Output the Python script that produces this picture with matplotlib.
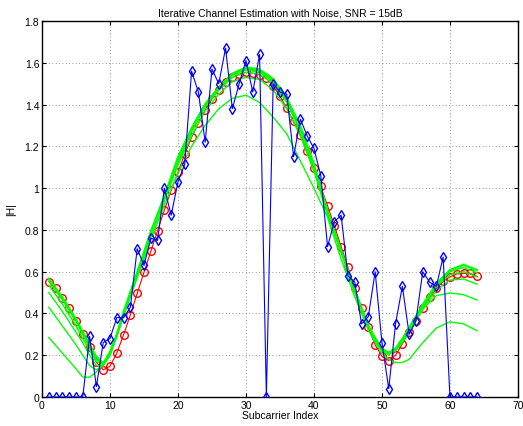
import matplotlib
matplotlib.use("Agg")
import matplotlib.pyplot as plt
import numpy as np

plt.rcParams['font.family'] = ['Liberation Sans', 'DejaVu Sans']

subcarriers = list(range(1, 65))

# raw LS estimate with noise (blue diamonds)
noisy = [0, 0, 0, 0, 0, 0, 0.29, 0.05, 0.26, 0.28,
         0.38, 0.38, 0.43, 0.71, 0.63, 0.76, 0.75, 1.00, 0.87, 1.03,
         1.115, 1.56, 1.46, 1.22, 1.57, 1.50, 1.67, 1.38, 1.50, 1.61,
         1.46, 1.64, 0, 1.50, 1.46, 1.45, 1.15, 1.33, 1.25, 1.19,
         1.06, 0.72, 0.84, 0.87, 0.58, 0.55, 0.35, 0.385, 0.60, 0.26,
         0.04, 0.35, 0.53, 0.30, 0.365, 0.60, 0.55, 0.53, 0.67, 0,
         0, 0, 0, 0]

# true channel (red circles)
true_h = [0.552, 0.52, 0.474, 0.426, 0.365, 0.30, 0.238, 0.166, 0.13, 0.147,
          0.21, 0.298, 0.394, 0.496, 0.597, 0.697, 0.796, 0.895, 0.99, 1.076,
          1.163, 1.243, 1.31, 1.374, 1.427, 1.471, 1.506, 1.53, 1.545, 1.554,
          1.55, 1.541, 1.526, 1.49, 1.44, 1.382, 1.32, 1.254, 1.177, 1.097,
          1.008, 0.915, 0.82, 0.72, 0.62, 0.52, 0.425, 0.334, 0.249, 0.195,
          0.174, 0.20, 0.254, 0.313, 0.365, 0.425, 0.477, 0.52, 0.553, 0.575,
          0.589, 0.592, 0.592, 0.577]

# iterative estimates (green), read at these subcarriers
gk = [1, 3, 5, 6, 7, 8, 9, 10, 11, 12, 14, 16, 18, 20, 22, 24, 26, 28, 30, 32,
      34, 36, 38, 40, 42, 44, 46, 48, 49, 50, 51, 52, 53, 54, 56, 58, 60, 62, 64]

iter1 = [0.285, 0.21, 0.135, 0.095, 0.095, 0.12, 0.16, 0.22, 0.30, 0.39, 0.57, 0.75,
         0.92, 1.07, 1.20, 1.30, 1.38, 1.43, 1.445, 1.41, 1.34, 1.26, 1.13, 1.00,
         0.86, 0.66, 0.48, 0.32, 0.26, 0.21, 0.18, 0.165, 0.165, 0.18, 0.26, 0.33,
         0.36, 0.35, 0.317]
iter2 = [0.43, 0.34, 0.25, 0.20, 0.15, 0.13, 0.15, 0.21, 0.29, 0.39, 0.58, 0.77,
         0.94, 1.11, 1.25, 1.37, 1.45, 1.51, 1.53, 1.52, 1.47, 1.38, 1.25, 1.08,
         0.87, 0.69, 0.50, 0.34, 0.27, 0.22, 0.20, 0.23, 0.27, 0.32, 0.42, 0.485,
         0.498, 0.49, 0.464]
iter3 = [0.50, 0.41, 0.31, 0.26, 0.20, 0.15, 0.15, 0.20, 0.29, 0.39, 0.59, 0.78,
         0.95, 1.12, 1.27, 1.39, 1.47, 1.53, 1.555, 1.545, 1.50, 1.41, 1.27, 1.10,
         0.88, 0.70, 0.51, 0.34, 0.28, 0.23, 0.21, 0.22, 0.26, 0.31, 0.42, 0.51,
         0.56, 0.565, 0.54]
iter4 = [0.535, 0.445, 0.34, 0.28, 0.225, 0.17, 0.155, 0.20, 0.29, 0.40, 0.59, 0.785,
         0.955, 1.13, 1.275, 1.395, 1.475, 1.54, 1.565, 1.555, 1.51, 1.42, 1.28, 1.10,
         0.885, 0.70, 0.51, 0.34, 0.28, 0.23, 0.21, 0.225, 0.27, 0.32, 0.43, 0.53,
         0.585, 0.60, 0.575]
iter5 = [0.555, 0.465, 0.36, 0.30, 0.24, 0.18, 0.16, 0.20, 0.30, 0.40, 0.59, 0.79,
         0.96, 1.14, 1.28, 1.40, 1.48, 1.545, 1.572, 1.56, 1.515, 1.425, 1.29, 1.11,
         0.89, 0.70, 0.51, 0.34, 0.28, 0.23, 0.21, 0.23, 0.27, 0.33, 0.44, 0.535,
         0.60, 0.62, 0.595]
iter6 = [0.565, 0.475, 0.37, 0.31, 0.25, 0.19, 0.16, 0.21, 0.30, 0.41, 0.60, 0.79,
         0.96, 1.15, 1.285, 1.40, 1.48, 1.545, 1.577, 1.565, 1.52, 1.43, 1.29, 1.11,
         0.89, 0.70, 0.51, 0.34, 0.28, 0.225, 0.21, 0.23, 0.28, 0.33, 0.44, 0.54,
         0.605, 0.63, 0.605]
iter7 = [0.57, 0.48, 0.375, 0.315, 0.255, 0.195, 0.165, 0.21, 0.305, 0.41, 0.60, 0.795,
         0.965, 1.15, 1.29, 1.405, 1.485, 1.55, 1.58, 1.57, 1.525, 1.435, 1.30, 1.12,
         0.895, 0.705, 0.515, 0.345, 0.285, 0.23, 0.215, 0.235, 0.28, 0.335, 0.445, 0.545,
         0.61, 0.635, 0.61]

iterations = [iter1, iter2, iter3, iter4, iter5, iter6, iter7]

xticks = [0, 10, 20, 30, 40, 50, 60, 70]
yticks = [0, 0.2, 0.4, 0.6, 0.8, 1.0, 1.2, 1.4, 1.6, 1.8]
ytick_labels = ['0', '0.2', '0.4', '0.6', '0.8', '1', '1.2', '1.4', '1.6', '1.8']

fig = plt.figure(figsize=(5.23, 4.27), dpi=100)
ax = fig.add_axes([0.0803, 0.0679, 0.910, 0.8806])

# true channel
ax.plot(subcarriers, true_h, color='red', marker='o', markerfacecolor='none',
        markersize=5.5, linewidth=0.8, zorder=2)

# iterative estimates
for est in iterations:
    ax.plot(gk, est, color=(0, 1, 0), linewidth=1.0, zorder=3)

# noisy estimate
ax.plot(subcarriers, noisy, color='blue', marker='d', markerfacecolor='none',
        markersize=5.5, linewidth=0.8, zorder=4)

ax.set_xlim(0, 70)
ax.set_ylim(0, 1.8)
ax.set_xticks(xticks)
ax.set_yticks(yticks)
ax.set_yticklabels(ytick_labels)
ax.tick_params(direction='in', length=3, top=True, right=True, labelsize=7.5, pad=2)
ax.grid(True, linestyle=(0, (1, 3)), color='#777777', linewidth=0.6)
for sp in ax.spines.values():
    sp.set_linewidth(1.0)

ax.set_title('Iterative Channel Estimation with Noise, SNR = 15dB', fontsize=7.5, pad=4)
ax.set_xlabel('Subcarrier Index', fontsize=7.5, labelpad=0)
ax.set_ylabel('|H|', fontsize=7.5, labelpad=6)

fig.savefig('out.png', dpi=100)
